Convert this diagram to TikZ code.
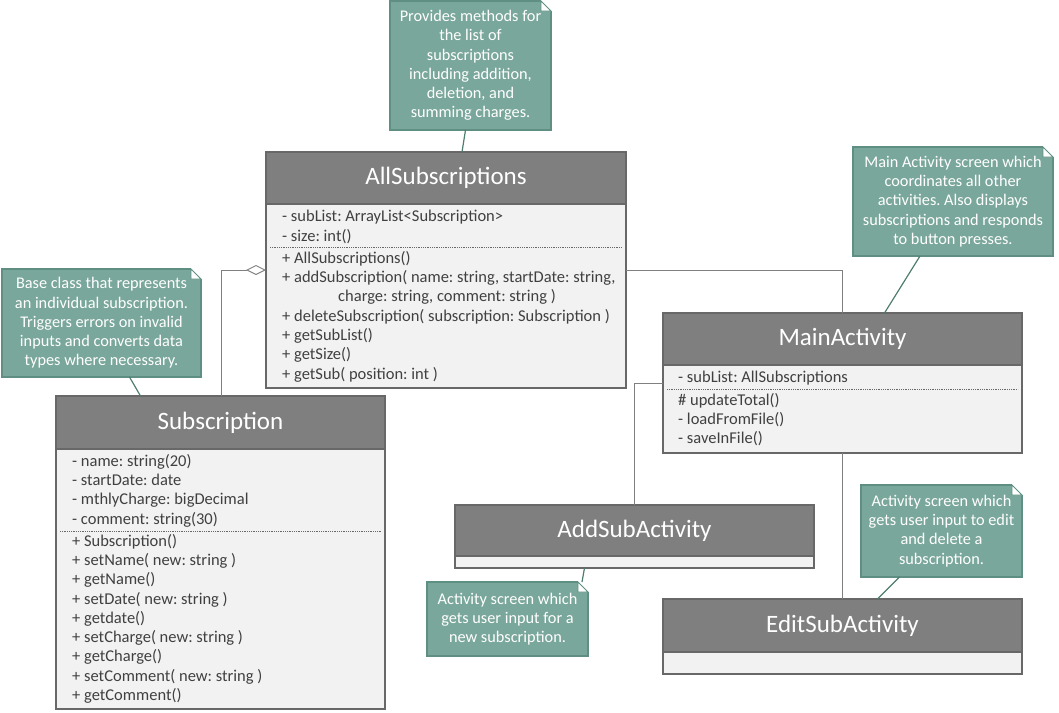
\documentclass[tikz,border=0pt]{standalone}
\usepackage{fontspec}
\setmainfont{Carlito}
\frenchspacing
\usetikzlibrary{arrows.meta}
\definecolor{umlHead}{HTML}{7F7F7F}
\definecolor{umlBody}{HTML}{F2F2F2}
\definecolor{umlEdge}{HTML}{686868}
\definecolor{umlText}{HTML}{404040}
\definecolor{umlNote}{HTML}{7AA79B}
\definecolor{umlNoteEdge}{HTML}{5E8F82}
\definecolor{umlLink}{HTML}{4E7D70}
\definecolor{umlWire}{HTML}{808080}
\tikzset{
  uml head/.style={draw=umlEdge, fill=umlHead, line width=1.3pt, text=white, font=\fontsize{25}{28}\selectfont, anchor=north west, inner sep=0pt, outer sep=0pt, minimum height=52},
  uml body/.style={draw=umlEdge, fill=umlBody, line width=1.3pt, anchor=north west, inner sep=0pt, outer sep=0pt},
  uml member/.style={text=umlText, font=\fontsize{16.5}{19}\selectfont, anchor=mid west, inner sep=0pt},
  uml split/.style={draw=umlEdge, densely dotted, line width=0.8pt},
  uml note/.style={fill=umlNote, draw=umlNoteEdge, line width=1.2pt, text=white, font=\fontsize{16.3}{19.2}\selectfont, align=center, anchor=north west, inner sep=0pt, outer sep=0pt},
  uml fold/.style={fill=white, draw=umlNoteEdge, line width=0.9pt},
  uml wire/.style={draw=umlWire, line width=1pt},
  uml link/.style={draw=umlLink, line width=1.2pt},
}

\begin{document}
\begin{tikzpicture}[x=1pt, y=-1pt]
  \useasboundingbox (0,0) rectangle (1059,712);

  % AllSubscriptions
  \node[uml head, minimum width=360] (allHead) at (266,152) {AllSubscriptions};
  \node[uml body, minimum width=360, minimum height=184] (allBody) at (allHead.south west) {};
  \foreach \t [count=\i from 0] in {{- subList: ArrayList<Subscription>}, {- size: int()}}
    \node[uml member] (allAttr\i) at (282, 219+20*\i) {\t};
  \draw[uml split] (270,247) -- (622,247);
  \foreach \t [count=\i from 0] in {{+ AllSubscriptions()},
      {+ addSubscription( name: string, startDate: string,},
      {\hspace*{56pt}charge: string, comment: string )},
      {+ deleteSubscription( subscription: Subscription )},
      {+ getSubList()}, {+ getSize()}, {+ getSub( position: int )}}
    \node[uml member] (allOp\i) at (282, 261+19.3*\i) {\t};

  % Subscription
  \node[uml head, minimum width=329, minimum height=53] (subHead) at (56,396) {Subscription};
  \node[uml body, minimum width=329, minimum height=260] (subBody) at (subHead.south west) {};
  \foreach \t [count=\i from 0] in {{- name: string(20)}, {- startDate: date},
      {- mthlyCharge: bigDecimal}, {- comment: string(30)}}
    \node[uml member] (subAttr\i) at (72, 464+19.3*\i) {\t};
  \draw[uml split] (60,531) -- (381,531);
  \foreach \t [count=\i from 0] in {{+ Subscription()}, {+ setName( new: string )},
      {+ getName()}, {+ setDate( new: string )}, {+ getdate()},
      {+ setCharge( new: string )}, {+ getCharge()},
      {+ setComment( new: string )}, {+ getComment()}}
    \node[uml member] (subOp\i) at (72, 544+19.25*\i) {\t};

  % MainActivity
  \node[uml head, minimum width=359] (mainHead) at (663,313) {MainActivity};
  \node[uml body, minimum width=359, minimum height=88] (mainBody) at (mainHead.south west) {};
  \node[uml member] (mainAttr0) at (678,380) {- subList: AllSubscriptions};
  \draw[uml split] (667,389) -- (1018,389);
  \foreach \t [count=\i from 0] in {{\# updateTotal()}, {- loadFromFile()}, {- saveInFile()}}
    \node[uml member] (mainOp\i) at (678, 403+19.3*\i) {\t};

  % AddSubActivity and EditSubActivity
  \node[uml head, minimum width=359, minimum height=51] (addHead) at (455,505) {AddSubActivity};
  \node[uml body, minimum width=359, minimum height=12] (addBody) at (addHead.south west) {};
  \node[uml head, minimum width=359, minimum height=53] (editHead) at (663,599) {EditSubActivity};
  \node[uml body, minimum width=359, minimum height=22] (editBody) at (editHead.south west) {};

  % notes
  \node[uml note, minimum width=161, minimum height=129] (allNote) at (390,1)
    {Provides methods for\\the list of\\subscriptions\\including addition,\\deletion, and\\summing charges.};
  \node[uml note, minimum width=199, minimum height=108] (subNote) at (2,269)
    {Base class that represents\\an individual subscription.\\Triggers errors on invalid\\inputs and converts data\\types where necessary.};
  \node[uml note, minimum width=200, minimum height=109] (mainNote) at (853,147)
    {Main Activity screen which\\coordinates all other\\activities. Also displays\\subscriptions and responds\\to button presses.};
  \node[uml note, minimum width=161, minimum height=74] (addNote) at (427,582)
    {Activity screen which\\gets user input for a\\new subscription.};
  \node[uml note, minimum width=161, minimum height=92] (editNote) at (861,485)
    {Activity screen which\\gets user input to edit\\and delete a\\subscription.};
  \foreach \n in {allNote,subNote,mainNote,addNote,editNote} {
    \fill[white] (\n.north east) ++(-10,-1) rectangle ++(11,11);
    \filldraw[uml fold] (\n.north east) ++(-10,0) -- ++(10,10) -- ++(-10,0) -- cycle;
  }

  % class links
  \coordinate (subAgg) at (221,396);
  \coordinate (allAgg) at (266,270);
  \coordinate (allOut) at (626,270);
  \coordinate (mainOut) at (663,383);
  \draw[uml wire, -{Diamond[open, length=20pt, width=10pt]}] (subAgg) |- (allAgg);
  \draw[uml wire] (allOut) -| (mainHead.north);
  \draw[uml wire] (mainOut) -| (addHead.north);
  \draw[uml wire] (mainBody.south) -- (editHead.north);

  % note links
  \draw[uml link] ([xshift=-5pt]allNote.south) -- ([xshift=16pt]allHead.north);
  \draw[uml link] ([xshift=28pt]subNote.south) -- ([xshift=-80pt]subHead.north);
  \draw[uml link] ([xshift=-33pt]mainNote.south) -- ([xshift=42pt]mainHead.north);
  \draw[uml link] ([xshift=-6pt]addNote.north east) -- ([xshift=-50pt]addBody.south);
  \draw[uml link] ([xshift=-42pt]editNote.south) -- ([xshift=35pt]editHead.north);
\end{tikzpicture}
\end{document}
